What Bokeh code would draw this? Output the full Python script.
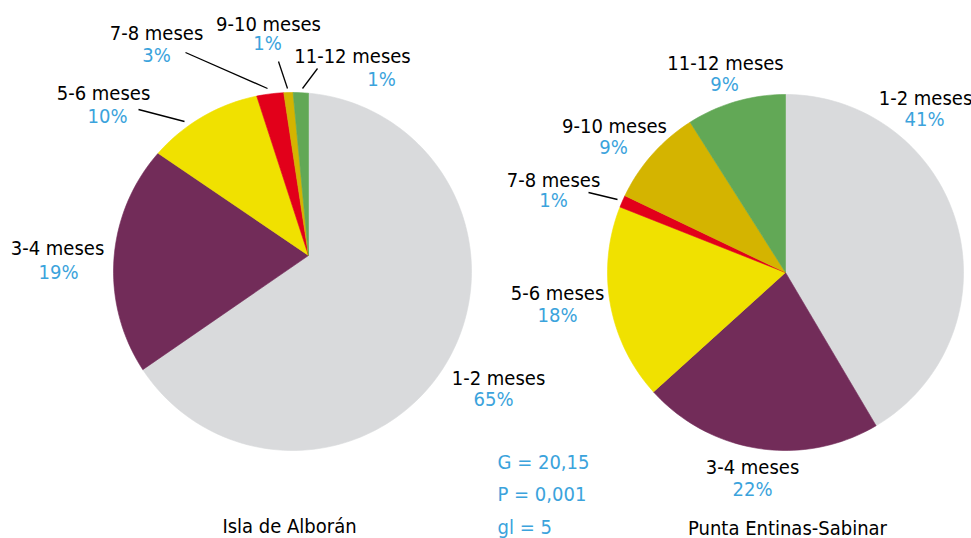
import numpy as np
from bokeh.plotting import figure
from bokeh.models import Range1d, ColumnDataSource
from bokeh.core.properties import value
from bokeh.embed import file_html
from bokeh.resources import INLINE

# ---------------- data ----------------
categories = ["1-2 meses", "3-4 meses", "5-6 meses", "7-8 meses", "9-10 meses", "11-12 meses"]
alboran_values = [65.4, 19.1, 10.5, 2.6, 0.9, 1.5]
entinas_values = [41.5, 21.8, 17.7, 1.1, 8.9, 9.0]
alboran_labels = ["65%", "19%", "10%", "3%", "1%", "1%"]
entinas_labels = ["41%", "22%", "18%", "1%", "9%", "9%"]
pie_titles = ["Isla de Alborán", "Punta Entinas-Sabinar"]
stats_lines = ["G = 20,15", "P = 0,001", "gl = 5"]

# ---------------- styles ----------------
colors = ["#D9DADC", "#722C59", "#F0E100", "#E2001A", "#D4B400", "#62A856"]
BLUE = "#3BA3DC"
FONT = value("DejaVu Sans Condensed")
FS = "20px"

# ---------------- layout (screen px, y down) ----------------
W, H = 971, 538
# left pie: wedge apex is offset from the circle centre (as in the source)
L_APEX, L_CENTER, L_R = (308, 255), (292, 271), 179
R_APEX, R_CENTER, R_R = (785, 272), (785, 272), 178

left_label_pos = [(498, 377), (57, 247), (103, 92), (156, 32), (268, 23), (352, 55)]
left_pct_pos = [(493, 398), (58, 271), (107, 115), (156, 54), (267, 42), (381, 78)]
right_label_pos = [(925, 97), (752, 466), (557, 292), (553, 179), (614, 125), (725, 62)]
right_pct_pos = [(924, 118), (752, 488), (557, 314), (553, 199), (613, 146), (724, 83)]
title_pos = [(289, 525), (787, 527)]
stats_pos = [(497, 461), (497, 493), (497, 526)]
left_leaders = [((185, 52), (267, 88)), ((278, 61), (287, 88)), ((317, 68), (302, 88)), ((138, 109), (184, 121))]
right_leaders = [((588, 192), (617, 199))]

p = figure(width=W, height=H, output_backend="svg", toolbar_location=None,
           x_range=Range1d(0, W), y_range=Range1d(H, 0),
           x_axis_type=None, y_axis_type=None, min_border=0,
           outline_line_color=None, background_fill_color="white")
p.grid.visible = False


def slice_polys(vals, apex, center, r):
    ax, ay = apex
    cx, cy = center
    total = float(sum(vals))
    xs, ys = [], []
    start = 0.0
    for v in vals:
        end = start + v / total * 2 * np.pi
        th = np.linspace(start, end, max(3, int(200 * v / total) + 3))
        dx, dy = np.sin(th), -np.cos(th)
        px, py = ax - cx, ay - cy
        b = dx * px + dy * py
        c = px * px + py * py - r * r
        s = -b + np.sqrt(b * b - c)
        xs.append([ax] + list(ax + s * dx))
        ys.append([ay] + list(ay + s * dy))
        start = end
    return xs, ys


for vals, apex, center, r in [(alboran_values, L_APEX, L_CENTER, L_R),
                              (entinas_values, R_APEX, R_CENTER, R_R)]:
    xs, ys = slice_polys(vals, apex, center, r)
    src = ColumnDataSource(dict(xs=xs, ys=ys, color=colors))
    p.patches("xs", "ys", source=src, fill_color="color", line_color="color", line_width=0.6)

# leader lines
for (a, b) in left_leaders + right_leaders:
    p.line([a[0], b[0]], [a[1], b[1]], line_color="black", line_width=1.3)


def add_text(xy, texts, color, align="center"):
    src = ColumnDataSource(dict(x=[q[0] for q in xy], y=[q[1] for q in xy], t=texts))
    p.text("x", "y", text="t", source=src, text_font=FONT, text_font_size=FS,
           text_color=color, text_align=align, text_baseline="middle")


add_text(left_label_pos, categories, "black")
add_text(left_pct_pos, alboran_labels, BLUE)
add_text(right_label_pos, categories, "black")
add_text(right_pct_pos, entinas_labels, BLUE)
add_text(title_pos, pie_titles, "black")
add_text(stats_pos, stats_lines, BLUE, align="left")

open("out.html", "w").write(file_html(p, INLINE))
